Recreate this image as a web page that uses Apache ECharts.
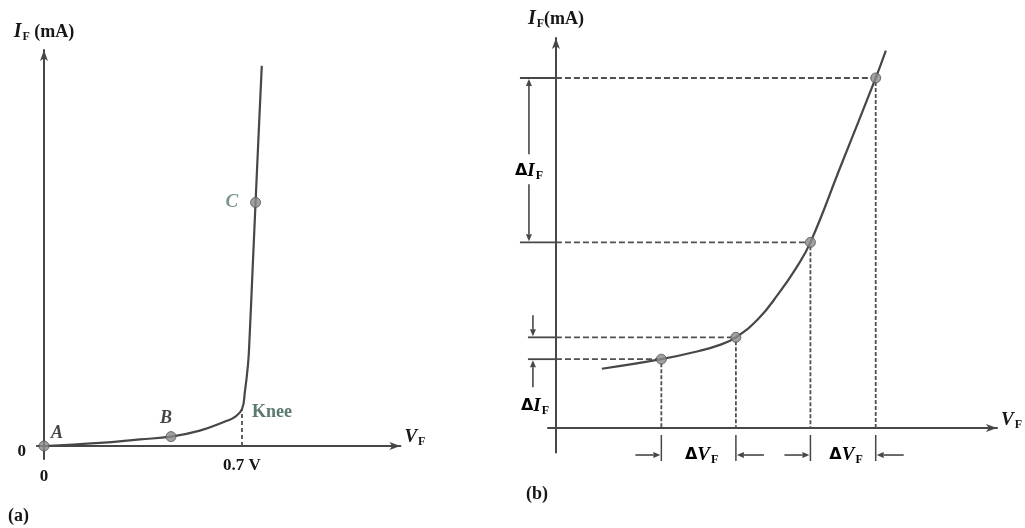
<!DOCTYPE html>
<html>
<head>
<meta charset="utf-8">
<script src="https://cdn.jsdelivr.net/npm/echarts@6/dist/echarts.min.js"></script>
<style>
  html, body { margin: 0; padding: 0; background: #ffffff; }
  #chart { width: 1025px; height: 528px; }
</style>
</head>
<body>
<div id="chart"></div>
<script>
// ---- Panel (a): forward characteristic from the origin through the knee ----
const voltsA   = [0, 0.198, 0.339, 0.449, 0.551, 0.640, 0.675, 0.700, 0.710, 0.721, 0.726, 0.737, 0.748, 0.759, 0.770];
const currentA = [0, 0.31, 0.67, 0.95, 1.56, 2.47, 2.94, 3.72, 5.42, 8.14, 10.45, 17.5, 24.6, 31.6, 38.4];
const pointNamesA   = ['A', 'B', 'C'];
const pointIndexA   = [0, 3, 12];        // A, B and C sit on the curve
const kneeIndexA    = 7;                 // knee at 0.7 V
const xTickValuesA  = [0, 0.7];
const yTickValuesA  = [0];

// ---- Panel (b): operating points used for the ΔV / ΔI construction ----
const voltsB   = [0.104, 0.239, 0.324, 0.370, 0.408, 0.459, 0.505, 0.543, 0.577, 0.646, 0.725, 0.748];
const currentB = [6.08, 7.06, 7.90, 8.50, 9.30, 11.2, 13.8, 16.3, 19.04, 26.9, 35.9, 38.7];
const opIndexB = [1, 4, 8, 10];          // the four marked operating points

const INK = '#474747';
const DASH = '#505050';
const TEAL = '#5d7a70';
const TEXT = '#161616';
const SERIF = '"Liberation Serif", "DejaVu Serif", serif';

const richSym = {
  d: { fontFamily: '"DejaVu Sans", sans-serif', fontWeight: 'bold', fontSize: 16, color: TEXT, lineHeight: 22 },
  i: { fontFamily: SERIF, fontStyle: 'italic', fontWeight: 'bold', fontSize: 19, color: TEXT, lineHeight: 22 },
  s: { fontFamily: SERIF, fontWeight: 'bold', fontSize: 12, color: TEXT, lineHeight: 12, verticalAlign: 'bottom', padding: [0, 0, 0, 1] },
  n: { fontFamily: SERIF, fontWeight: 'bold', fontSize: 17, color: TEXT, lineHeight: 22 }
};
const richName = {
  i: Object.assign({}, richSym.i, { fontSize: 20 }),
  s: Object.assign({}, richSym.s, { fontSize: 12 }),
  n: Object.assign({}, richSym.n, { fontSize: 18 })
};

const curveA = voltsA.map((v, k) => [v, currentA[k]]);
const curveB = voltsB.map((v, k) => [v, currentB[k]]);

function arrow(from, to, color) {
  const dx = to[0] - from[0], dy = to[1] - from[1];
  const len = Math.hypot(dx, dy) || 1;
  const ux = dx / len, uy = dy / len;
  const hl = 7, hw = 3;
  const bx = to[0] - ux * hl, by = to[1] - uy * hl;
  return [
    { type: 'line', shape: { x1: from[0], y1: from[1], x2: bx, y2: by }, style: { stroke: color, lineWidth: 1.6 } },
    { type: 'polygon', shape: { points: [[to[0], to[1]], [bx - uy * hw, by + ux * hw], [bx + uy * hw, by - ux * hw]] }, style: { fill: color } }
  ];
}

function seg(p, q, color, dash, width) {
  return { type: 'line', shape: { x1: p[0], y1: p[1], x2: q[0], y2: q[1] },
           style: { stroke: color, lineWidth: width || 1.8, lineDash: dash || null } };
}

function deltaText(x, y, letter) {
  return { type: 'text', style: { x: x, y: y, text: '{d|Δ}{i|' + letter + '}{s|F}', rich: richSym, align: 'center', verticalAlign: 'middle' } };
}

// Knee marker of panel (a)
function renderKnee(params, api) {
  const k = api.coord([voltsA[kneeIndexA], currentA[kneeIndexA]]);
  const base = api.coord([voltsA[kneeIndexA], 0]);
  return { type: 'group', children: [
    seg(base, k, DASH, [4, 3], 1.8),
    { type: 'text', style: { x: k[0] + 10, y: k[1] + 3, text: 'Knee', fill: TEAL,
      font: 'bold 18px ' + SERIF, align: 'left', verticalAlign: 'middle' } }
  ] };
}

// Projection lines and ΔV / ΔI dimensions of panel (b)
function renderConstruction(params, api) {
  const ch = [];
  const pts = opIndexB.map(k => api.coord([voltsB[k], currentB[k]]));
  const axisY = opIndexB.map(k => api.coord([voltsB[k], 0])[1]);
  const yAxisX = api.coord([0, 0])[0];

  pts.forEach((p, j) => {
    // horizontal projection to the current axis
    const stubStart = j >= 2 ? yAxisX - 36 : yAxisX - 28;
    ch.push(seg([stubStart, p[1]], [yAxisX, p[1]], INK, null, 1.8));
    ch.push(seg([yAxisX, p[1]], [p[0] - 4, p[1]], DASH, [6, 3], 1.8));
    // vertical projection to the voltage axis, plus extension tick
    ch.push(seg([p[0], p[1] + 4], [p[0], axisY[j]], DASH, [4, 2], 1.8));
    ch.push(seg([p[0], axisY[j] + 7], [p[0], axisY[j] + 33], INK, null, 1.5));
  });

  // ΔI between points 3 and 4 (arrows pointing outwards)
  const upX = yAxisX - 27;
  const midI = (pts[2][1] + pts[3][1]) / 2 + 12;
  ch.push(...arrow([upX, midI - 18], [upX, pts[3][1] + 1], INK));
  ch.push(...arrow([upX, midI + 12], [upX, pts[2][1] - 1], INK));
  ch.push(deltaText(upX, midI - 1, 'I'));

  // ΔI between points 1 and 2 (arrows pointing inwards)
  const loX = yAxisX - 23;
  ch.push(...arrow([loX, pts[1][1] - 22], [loX, pts[1][1] - 1], INK));
  ch.push(...arrow([loX, pts[0][1] + 28], [loX, pts[0][1] + 1], INK));
  ch.push(deltaText(loX + 2, pts[0][1] + 47, 'I'));

  // ΔV between points 1–2 and 3–4
  [[0, 1], [2, 3]].forEach(([a, b]) => {
    const ya = (axisY[a] + axisY[b]) / 2 + 27;
    ch.push(...arrow([pts[a][0] - 26, ya], [pts[a][0] - 1, ya], INK));
    ch.push(...arrow([pts[b][0] + 28, ya], [pts[b][0] + 1, ya], INK));
    ch.push(deltaText((pts[a][0] + pts[b][0]) / 2 + 3, ya, 'V'));
  });

  return { type: 'group', children: ch };
}

const axisLineStyle = { color: INK, width: 2 };

const option = {
  backgroundColor: '#ffffff',
  animation: false,
  grid: [
    { left: 36.9, top: 50, width: 363.5, height: 408.9 },
    { left: 548, top: 38, width: 452, height: 414.4 }
  ],
  xAxis: [
    {
      gridIndex: 0, type: 'value', min: -0.025, max: 1.26,
      name: '{i|V}{s|F}', nameLocation: 'end', nameGap: 4,
      nameTextStyle: { rich: richSym, padding: [0, 0, 18, 0] },
      axisLine: { show: true, onZero: true, lineStyle: axisLineStyle, symbol: ['none', 'arrow'], symbolSize: [6, 11] },
      axisTick: { show: false }, splitLine: { show: false },
      axisLabel: {
        customValues: xTickValuesA, margin: -2,
        formatter: v => Math.abs(v) < 1e-9 ? '{z|0}' : '{t|' + v + ' V}',
        rich: {
          z: { fontFamily: SERIF, fontWeight: 'bold', fontSize: 17, color: TEXT, padding: [11, 0, 0, 0] },
          t: { fontFamily: SERIF, fontWeight: 'bold', fontSize: 17, color: TEXT }
        }
      }
    },
    {
      gridIndex: 1, type: 'value', min: -0.018, max: 1.0,
      name: '{i|V}{s|F}', nameLocation: 'end', nameGap: 4,
      nameTextStyle: { rich: richSym, padding: [0, 0, 16, 0] },
      axisLine: { show: true, onZero: true, lineStyle: axisLineStyle, symbol: ['none', 'arrow'], symbolSize: [6, 11] },
      axisTick: { show: false }, splitLine: { show: false }, axisLabel: { show: false }
    }
  ],
  yAxis: [
    {
      gridIndex: 0, type: 'value', min: -1.3, max: 40,
      name: '{i|I}{s|F}{n| (mA)}', nameLocation: 'end', nameGap: 7,
      nameTextStyle: { rich: richName },
      axisLine: { show: true, onZero: true, lineStyle: axisLineStyle, symbol: ['none', 'arrow'], symbolSize: [6, 11] },
      axisTick: { show: false }, splitLine: { show: false },
      axisLabel: {
        customValues: yTickValuesA, margin: 11,
        formatter: () => '{z|0}',
        rich: { z: { fontFamily: SERIF, fontWeight: 'bold', fontSize: 17, color: TEXT, padding: [12, 0, 0, 0] } }
      }
    },
    {
      gridIndex: 1, type: 'value', min: -2.5, max: 40,
      name: '{i|I}{s|F}{n|(mA)}', nameLocation: 'end', nameGap: 8,
      nameTextStyle: { rich: richName },
      axisLine: { show: true, onZero: true, lineStyle: axisLineStyle, symbol: ['none', 'arrow'], symbolSize: [6, 11] },
      axisTick: { show: false }, splitLine: { show: false }, axisLabel: { show: false }
    }
  ],
  series: [
    {
      type: 'line', xAxisIndex: 0, yAxisIndex: 0, data: curveA,
      smooth: 0.45, showSymbol: false, clip: false,
      lineStyle: { color: INK, width: 2.2 }, z: 3
    },
    {
      type: 'custom', xAxisIndex: 0, yAxisIndex: 0, data: [[0, 0]],
      renderItem: renderKnee, z: 2, silent: true
    },
    {
      type: 'scatter', xAxisIndex: 0, yAxisIndex: 0, symbolSize: 10, z: 5,
      itemStyle: { color: '#8a8a8a', borderColor: '#555', borderWidth: 1 },
      data: pointIndexA.map((k, j) => {
        const item = { value: [voltsA[k], currentA[k]], name: pointNamesA[j] };
        const base = { show: true, formatter: '{b}', fontFamily: SERIF, fontStyle: 'italic', fontWeight: 'bold', fontSize: 18, color: TEXT };
        if (j === 0) item.label = Object.assign(base, { position: 'top', offset: [13, 7] });
        else if (j === 1) item.label = Object.assign(base, { position: 'top', offset: [-5, 1] });
        else item.label = Object.assign(base, { position: 'left', distance: 12, color: TEAL, fontSize: 19 });
        return item;
      })
    },
    {
      type: 'custom', xAxisIndex: 1, yAxisIndex: 1, data: [[0, 0]],
      renderItem: renderConstruction, z: 2, silent: true
    },
    {
      type: 'line', xAxisIndex: 1, yAxisIndex: 1, data: curveB,
      smooth: 0.45, showSymbol: false, clip: false,
      lineStyle: { color: INK, width: 2.2 }, z: 3
    },
    {
      type: 'scatter', xAxisIndex: 1, yAxisIndex: 1, symbolSize: 10, z: 5,
      itemStyle: { color: '#8a8a8a', borderColor: '#555', borderWidth: 1 },
      data: opIndexB.map(k => [voltsB[k], currentB[k]])
    }
  ],
  graphic: [
    { type: 'text', left: 8, top: 507, style: { text: '(a)', font: 'bold 18px ' + SERIF, fill: TEXT } },
    { type: 'text', left: 526, top: 485, style: { text: '(b)', font: 'bold 18px ' + SERIF, fill: TEXT } }
  ]
};

const chart = echarts.init(document.getElementById('chart'), null, { renderer: 'canvas' });
chart.setOption(option);
</script>
</body>
</html>
